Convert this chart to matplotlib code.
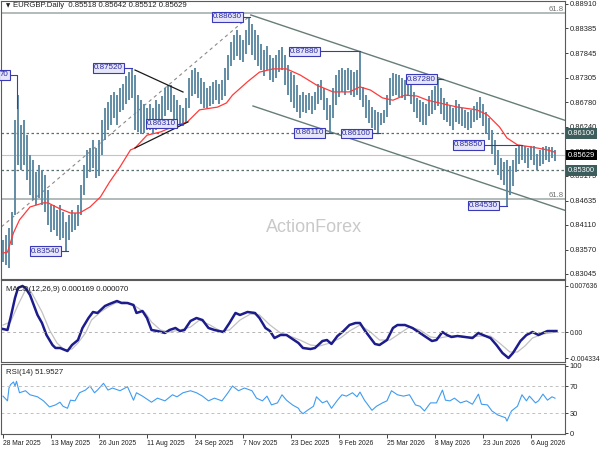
import matplotlib
matplotlib.use('Agg')
import matplotlib.pyplot as plt
import matplotlib.transforms as mtransforms
import numpy as np

plt.rcParams['font.family'] = ['Liberation Sans', 'DejaVu Sans']

# --- price bars, one drawn bar per two trading days, values in pips (1e-4) ---
bar_high = [
    8378, 8389, 8404, 8439, 8639, 8693, 8628, 8639, 8606, 8563,
    8552, 8526, 8541, 8530, 8519, 8487, 8454, 8454, 8443, 8454,
    8439, 8417, 8433, 8443, 8437, 8454, 8498, 8541, 8574, 8578,
    8596, 8578, 8596, 8639, 8665, 8678, 8693, 8700, 8693, 8709,
    8717, 8735, 8743, 8752, 8737, 8693, 8682, 8674, 8665, 8674,
    8665, 8682, 8674, 8691, 8709, 8715, 8715, 8693, 8682, 8672,
    8665, 8687, 8730, 8748, 8752, 8743, 8730, 8722, 8709, 8713,
    8722, 8726, 8717, 8726, 8752, 8780, 8808, 8824, 8835, 8824,
    8813, 8835, 8863, 8848, 8835, 8824, 8804, 8791, 8800, 8780,
    8774, 8780, 8791, 8798, 8780, 8758, 8743, 8737, 8715, 8693,
    8700, 8693, 8698, 8691, 8700, 8717, 8726, 8709, 8687, 8672,
    8709, 8737, 8748, 8752, 8748, 8752, 8748, 8743, 8748, 8788,
    8711, 8693, 8682, 8667, 8661, 8656, 8654, 8661, 8693, 8730,
    8741, 8739, 8737, 8730, 8726, 8730, 8717, 8700, 8687, 8682,
    8678, 8674, 8691, 8704, 8713, 8728, 8709, 8687, 8678, 8672,
    8665, 8682, 8674, 8665, 8661, 8656, 8661, 8669, 8678, 8689,
    8674, 8656, 8643, 8617, 8596, 8574, 8556, 8548, 8552, 8539,
    8552, 8578, 8585, 8582, 8583, 8578, 8582, 8583, 8565, 8574,
    8580, 8583, 8580, 8580, 8574,
]
bar_low = [
    8331, 8324, 8317, 8367, 8433, 8541, 8530, 8541, 8509, 8476,
    8465, 8454, 8469, 8454, 8439, 8411, 8396, 8400, 8387, 8378,
    8383, 8354, 8378, 8396, 8400, 8409, 8433, 8476, 8513, 8526,
    8535, 8513, 8517, 8563, 8596, 8617, 8628, 8643, 8628, 8656,
    8661, 8674, 8682, 8687, 8617, 8613, 8609, 8611, 8617, 8617,
    8609, 8617, 8626, 8639, 8648, 8661, 8656, 8639, 8628, 8628,
    8626, 8635, 8665, 8691, 8695, 8687, 8674, 8665, 8665, 8669,
    8674, 8682, 8674, 8682, 8691, 8726, 8756, 8769, 8778, 8769,
    8765, 8782, 8802, 8780, 8769, 8756, 8748, 8735, 8748, 8726,
    8722, 8730, 8743, 8748, 8715, 8693, 8678, 8665, 8656, 8643,
    8656, 8654, 8661, 8652, 8661, 8674, 8682, 8661, 8639, 8611,
    8643, 8672, 8689, 8700, 8693, 8704, 8693, 8689, 8693, 8682,
    8667, 8643, 8632, 8622, 8617, 8610, 8628, 8632, 8646, 8672,
    8691, 8693, 8689, 8687, 8682, 8691, 8674, 8656, 8643, 8635,
    8628, 8628, 8648, 8652, 8661, 8669, 8652, 8639, 8635, 8626,
    8617, 8635, 8630, 8626, 8622, 8617, 8622, 8635, 8639, 8643,
    8626, 8609, 8596, 8565, 8541, 8519, 8509, 8498, 8453, 8476,
    8496, 8526, 8543, 8552, 8546, 8535, 8552, 8541, 8530, 8539,
    8543, 8552, 8548, 8556, 8551,
]

# moving average (red line), trading-day index and pips
ma_days = [0, 3, 7, 11, 18, 27, 30, 38, 45, 51, 58, 65, 71, 78, 85, 88, 96, 105,
           113, 123, 131, 143, 149, 153, 163, 171, 180, 189, 198, 209, 220, 231,
           238, 245, 253, 260, 268, 276, 283, 291, 303, 316, 323, 331, 336, 343,
           353, 363, 368]
ma_vals = [8350, 8352, 8394, 8422, 8450, 8459, 8459, 8446, 8437, 8437, 8450, 8472,
           8504, 8537, 8574, 8578, 8606, 8613, 8624, 8635, 8661, 8667, 8676, 8693,
           8722, 8743, 8750, 8750, 8737, 8715, 8700, 8700, 8711, 8704, 8687, 8682,
           8693, 8691, 8682, 8676, 8667, 8661, 8650, 8624, 8600, 8585, 8580, 8574,
           8569]

# MACD(12,26,9), values in 1e-4
macd_days = [0, 3, 5, 8, 10, 13, 15, 18, 20, 23, 26, 29, 33, 35, 38, 43, 46, 50, 53, 57,
             60, 63, 68, 71, 76, 79, 83, 87, 89, 93, 96, 99, 103, 108, 111, 115, 118, 121,
             125, 129, 133, 137, 141, 147, 151, 155, 158, 163, 168, 171, 175, 178, 181,
             185, 189, 193, 197, 200, 205, 208, 213, 216, 219, 223, 227, 231, 235, 238,
             241, 245, 248, 251, 256, 260, 263, 268, 273, 278, 283, 286, 289, 293, 296,
             299, 303, 308, 313, 317, 320, 325, 329, 333, 337, 340, 345, 349, 353, 357,
             360, 363, 369]
macd_vals = [4.9, 3.3, 23.0, 55.9, 72.4, 75.7, 72.4, 60.9, 47.7, 28.0,
             14.8, -4.9, -21.4, -26.3, -26.3, -31.3, -21.4, -13.2, 6.6, 23.0,
             32.9, 31.3, 42.8, 46.1, 51.0, 47.7, 47.7, 44.4, 31.3, 34.5,
             23.0, 3.3, 1.6, -1.6, 3.3, 6.6, 1.6, 3.3, 18.1, 23.0,
             19.7, 6.6, 3.3, 0.0, 14.8, 31.3, 28.0, 32.9, 31.3, 23.0,
             6.6, 1.6, -9.9, -4.9, -4.9, -11.5, -18.1, -26.3, -28.0, -26.3,
             -14.8, -13.2, -19.7, -6.6, 1.6, 11.5, 14.8, 14.8, 3.3, -9.9,
             -19.7, -21.4, -13.2, 6.6, 11.5, 11.5, 6.6, -1.6, -9.9, -14.8,
             -13.2, 0.0, -4.9, -8.2, -6.6, -8.2, -9.9, -1.6, -4.9, -9.9,
             -21.4, -34.5, -42.8, -34.5, -14.8, -4.9, 0.0, -4.9, -1.6, 1.6,
             1.6]
signal_days = [0, 5, 10, 15, 18, 21, 26, 31, 36, 41, 46, 50, 55, 59, 65, 70, 75, 81,
               88, 95, 99, 105, 111, 118, 125, 131, 138, 145, 151, 158, 165, 171, 178,
               185, 191, 198, 205, 211, 218, 225, 231, 238, 245, 251, 258, 265, 271,
               278, 285, 291, 298, 305, 311, 318, 325, 331, 338, 343, 348, 353, 360, 369]
signal_vals = [11.5, 16.5, 44.4, 69.1, 69.1, 55.9, 32.9, 3.3, -18.1, -29.6,
               -28.0, -18.1, -1.6, 19.7, 32.9, 41.1, 47.7, 49.4, 42.8, 31.3,
               16.5, 3.3, 0.0, 3.3, 8.2, 19.7, 11.5, 1.6, 3.3, 19.7,
               29.6, 28.0, 11.5, -1.6, -6.6, -13.2, -21.4, -23.0, -18.1, -9.9,
               1.6, 11.5, 0.0, -13.2, -13.2, -1.6, 8.2, 3.3, -8.2, -9.9,
               -6.6, -6.6, -8.2, -6.6, -6.6, -18.1, -32.9, -32.9, -23.0, -9.9,
               -3.3, 0.0]

# RSI(14)
rsi_days = [0, 3, 4, 5, 7, 8, 9, 11, 15, 18, 23, 27, 31, 35, 38, 40, 43, 45, 48, 51,
            55, 58, 61, 63, 67, 70, 73, 78, 83, 87, 89, 93, 99, 103, 108, 113, 116, 120,
            125, 129, 133, 137, 141, 146, 150, 153, 157, 161, 166, 169, 173, 176, 179,
            183, 186, 189, 193, 197, 198, 200, 203, 207, 209, 213, 216, 219, 223, 226,
            229, 233, 236, 238, 241, 246, 249, 253, 256, 259, 263, 267, 271, 275, 278,
            281, 285, 289, 293, 295, 298, 301, 305, 309, 313, 317, 319, 323, 326, 330,
            335, 336, 339, 343, 346, 349, 351, 355, 357, 360, 363, 366, 368]
rsi_vals = [55, 48, 67, 72, 76, 70, 77, 60, 63, 57, 54, 48, 39, 42, 46, 40, 37, 49, 48, 60,
            64, 70, 60, 64, 74, 64, 67, 63, 69, 49, 60, 55, 46, 52, 48, 57, 54, 60, 63, 60,
            55, 48, 52, 48, 60, 70, 63, 67, 63, 52, 48, 55, 42, 45, 57, 49, 42, 37, 33, 29,
            34, 40, 54, 45, 48, 37, 49, 57, 55, 60, 54, 61, 49, 34, 40, 45, 48, 63, 57, 55,
            57, 42, 40, 33, 45, 45, 64, 49, 48, 52, 45, 48, 43, 58, 43, 42, 33, 27, 23, 18,
            33, 40, 57, 48, 55, 45, 48, 58, 49, 54, 52]

date_labels = ['28 Mar 2025', '13 May 2025', '26 Jun 2025', '11 Aug 2025', '24 Sep 2025',
               '7 Nov 2025', '23 Dec 2025', '9 Feb 2026', '25 Mar 2026', '8 May 2026',
               '23 Jun 2026', '6 Aug 2026']
price_ticks = [0.83045, 0.83570, 0.84110, 0.84635, 0.85175, 0.85715,
               0.86240, 0.86780, 0.87305, 0.87845, 0.88385, 0.88910]

# swing labels: text, box right edge (day), bar (day), price
swing_labels = [
    ('0.88630', 160.0, 165.0, 0.88630),
    ('0.87520', 80.7, 86.0, 0.87520),
    ('0.87880', 211.3, 238.0, 0.87880),
    ('0.87280', 289.3, 293.3, 0.87280),
    ('0.86110', 214.7, 219.3, 0.86110),
    ('0.86100', 246.0, 251.3, 0.86100),
    ('0.85850', 320.7, 346.0, 0.85850),
    ('0.84530', 330.7, 336.0, 0.84530),
    ('0.83540', 38.7, 43.3, 0.83540),
    ('0.86310', 116.0, 120.0, 0.86310),
]

W, H = 600.0, 450.0


def px_box(x0, y0, x1, y1):
    return [x0 / W, 1 - y1 / H, (x1 - x0) / W, (y1 - y0) / H]


fig = plt.figure(figsize=(6, 4.5), dpi=100)
ax = fig.add_axes(px_box(1, 1, 565, 279))
ax_macd = fig.add_axes(px_box(1, 280, 565, 362), sharex=ax)
ax_rsi = fig.add_axes(px_box(1, 364, 565, 434), sharex=ax)

edge = '#5a5a5a'
for a in (ax, ax_macd, ax_rsi):
    for s in a.spines.values():
        s.set_color(edge)
        s.set_linewidth(0.8)
    a.yaxis.tick_right()
    a.tick_params(axis='y', labelsize=5.4, length=2, pad=1.5, colors='#222222', width=0.6)
    a.set_facecolor('white')
ax_macd.tick_params(axis='y', labelsize=4.9)

# --- main price panel ---
bar_x = np.arange(len(bar_high)) * 2
hi = np.array(bar_high) / 1e4
lo = np.array(bar_low) / 1e4
ax.vlines(bar_x, lo, hi, color='#5b88a2', linewidth=1.35, zorder=3)
ax.plot(ma_days, np.array(ma_vals) / 1e4, color='#ff3a3a', linewidth=0.9, zorder=4)

# horizontal levels
tr = mtransforms.blended_transform_factory(ax.transAxes, ax.transData)
ax.axhline(0.88715, color='#a6aeae', linewidth=1.2, zorder=1)
ax.axhline(0.84674, color='#a6aeae', linewidth=1.2, zorder=1)
ax.axhline(0.8610, color='#5a6e6e', linewidth=0.9, dashes=(2, 2), zorder=1)
ax.axhline(0.8530, color='#5a6e6e', linewidth=0.9, dashes=(2, 2), zorder=1)
ax.axhline(0.85629, color='#c4c4c4', linewidth=0.8, zorder=1)
ax.text(0.997, 0.88715 + 0.0001, '61.8', transform=tr,
        ha='right', va='bottom', fontsize=5.6, color='#707070')
ax.text(0.997, 0.84674 + 0.0001, '61.8', transform=tr,
        ha='right', va='bottom', fontsize=5.6, color='#707070')

# trend lines / channel
ax.plot([165.3, 376], [0.88671, 0.86368], color='#667d78', linewidth=1.0, zorder=2)
ax.plot([166.7, 376], [0.86694, 0.84413], color='#667d78', linewidth=1.0, zorder=2)
ax.plot([-1, 165.3], [0.84070, 0.88671], color='#8a8a8a', linewidth=0.8, dashes=(3, 3), zorder=2)
ax.plot([88, 120], [0.87476, 0.86998], color='#1a1a1a', linewidth=0.9, zorder=5)
ax.plot([88, 123.3], [0.85782, 0.86347], color='#1a1a1a', linewidth=0.9, zorder=5)

# swing labels
lbl_box = dict(boxstyle='square,pad=0.15', fc='#e6e6f8', ec='#3a3ab8', lw=0.8)
for txt, xr, xb, p in swing_labels:
    ax.plot([xr, xb], [p, p], color='#3a3ab8', linewidth=0.8, zorder=6)
    ax.text(xr - 0.8, p, txt, ha='right', va='center', fontsize=5.8, color='#2a2aa0',
            bbox=lbl_box, zorder=7)
# clipped label on the left edge
ax.plot([4.7, 9.3, 9.3], [0.8737, 0.8737, 0.8665], color='#3a3ab8', linewidth=0.8, zorder=6)
ax.text(3.9, 0.8737, '70', ha='right', va='center', fontsize=5.8, color='#2a2aa0',
        bbox=lbl_box, zorder=7)

ax.set_ylim(0.82936, 0.88975)
ax.set_yticks(price_ticks)
ax.set_yticklabels(['%.5f' % v for v in price_ticks])
ax.set_xlim(-1.33, 374.7)
ax.tick_params(axis='x', bottom=False, labelbottom=False)

# right side price boxes
for val, fc in ((0.86100, '#3d5c5c'), (0.85629, '#000000'), (0.85300, '#3d5c5c')):
    ax.text(1.005, val, '%.5f' % val, transform=tr, ha='left', va='center', fontsize=5.4,
            color='white', bbox=dict(boxstyle='square,pad=0.25', fc=fc, ec='none'),
            zorder=10, clip_on=False)

ax.text(0.008, 0.992, '\u25bc', transform=ax.transAxes, ha='left', va='top', fontsize=4,
        color='#202020', family=['DejaVu Sans'])
ax.text(0.022, 0.995, 'EURGBP.Daily  0.85518 0.85642 0.85512 0.85629', transform=ax.transAxes,
        ha='left', va='top', fontsize=5.6, color='#202020')
ax.text(0.555, 0.187, 'ActionForex', transform=ax.transAxes, ha='center', va='center',
        fontsize=13, color='#c9c9c9', zorder=0)

# --- MACD panel ---
ax_macd.plot(signal_days, np.array(signal_vals) / 1e4, color='#c2c2c2', linewidth=0.9)
ax_macd.plot(macd_days, np.array(macd_vals) / 1e4, color='#1c1c8c', linewidth=1.8)
ax_macd.axhline(0, color='#b4b4b4', linewidth=0.7, dashes=(3, 3))
ax_macd.set_ylim(-0.004934, 0.008553)
ax_macd.set_yticks([0.007636, 0.0, -0.004334])
ax_macd.set_yticklabels(['0.007636', '0.00', '-0.004334'])
ax_macd.tick_params(axis='x', bottom=False, labelbottom=False)
ax_macd.text(0.008, 0.93, 'MACD(12,26,9) 0.000169 0.000070', transform=ax_macd.transAxes,
             ha='left', va='top', fontsize=5.6, color='#202020')

# --- RSI panel ---
ax_rsi.plot(rsi_days, rsi_vals, color='#3f9cf2', linewidth=0.8)
ax_rsi.axhline(70, color='#c0c0c0', linewidth=0.7, dashes=(3, 3))
ax_rsi.axhline(30, color='#c0c0c0', linewidth=0.7, dashes=(3, 3))
ax_rsi.set_ylim(-1.1, 102.6)
ax_rsi.set_yticks([100, 70, 30, 0])
ax_rsi.set_yticklabels(['100', '70', '30', '0'])
ax_rsi.text(0.008, 0.93, 'RSI(14) 51.9527', transform=ax_rsi.transAxes,
            ha='left', va='top', fontsize=5.6, color='#202020')

tick_days = [32 * i for i in range(len(date_labels))]
ax_rsi.set_xticks(tick_days)
ax_rsi.set_xticklabels(date_labels)
ax_rsi.tick_params(axis='x', labelsize=4.9, length=3, pad=1.5, colors='#222222', width=0.6)
for lbl in ax_rsi.get_xticklabels():
    lbl.set_ha('left')

fig.savefig('out.png', dpi=100)
